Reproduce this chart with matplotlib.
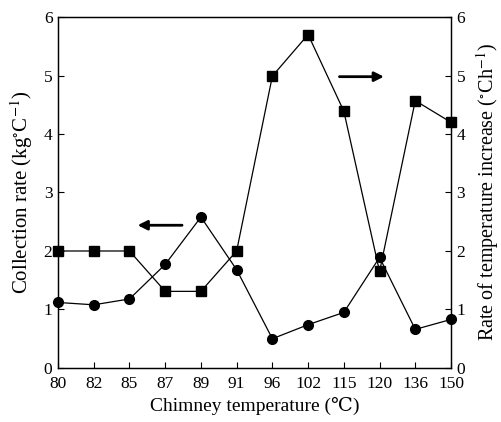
import numpy as np
import matplotlib
matplotlib.use('Agg')
import matplotlib.pyplot as plt

# 数据
temps = ['80', '82', '85', '87', '89', '91', '96', '102', '115', '120', '136', '150']
collection_rate = [1.12, 1.08, 1.18, 1.77, 2.58, 1.68, 0.50, 0.74, 0.95, 1.89, 0.66, 0.83]
temp_increase = [2.0, 2.0, 2.0, 1.31, 1.31, 2.0, 4.99, 5.70, 4.39, 1.65, 4.57, 4.20]

plt.rcParams['font.family'] = ['Liberation Serif', 'DejaVu Serif', 'Noto Sans CJK SC']
plt.rcParams['mathtext.fontset'] = 'stix'

fig = plt.figure(figsize=(5.01, 4.22), dpi=100)
ax = fig.add_axes([0.1158, 0.128, 0.7844, 0.8317])
ax2 = ax.twinx()

x = np.arange(len(temps))
ax.plot(x, collection_rate, color='black', lw=0.9, marker='o', ms=7, clip_on=False, zorder=3)
ax2.plot(x, temp_increase, color='black', lw=0.9, marker='s', ms=7, clip_on=False, zorder=3)

ax.set_xlim(0, len(temps) - 1)
ax.set_ylim(0, 6)
ax2.set_ylim(0, 6)
ax.set_xticks(x)
ax.set_xticklabels(temps)
ax.set_yticks(range(7))
ax2.set_yticks(range(7))

ax.tick_params(axis='x', direction='in', labelsize=12.5, length=4, width=0.8, pad=6)
ax.tick_params(axis='y', direction='in', labelsize=12.5, length=4, width=0.8, pad=4)
ax2.tick_params(axis='y', direction='in', labelsize=12.5, length=4, width=0.8, pad=4)

for a in (ax, ax2):
    for s in a.spines.values():
        s.set_linewidth(0.9)

ax.set_xlabel('Chimney temperature (℃)', fontsize=14, labelpad=3)
ax.set_ylabel(r'Collection rate (kg$^{\circ}$C$^{-1}$)', fontsize=15, labelpad=6)
ax2.set_ylabel(r'Rate of temperature increase ($^{\circ}$Ch$^{-1}$)', fontsize=14.5, labelpad=6)

# 箭头
ax.annotate('', xy=(2.15, 2.44), xytext=(3.55, 2.44),
            arrowprops=dict(arrowstyle='-|>', color='black', lw=2, mutation_scale=14))
ax2.annotate('', xy=(9.2, 4.98), xytext=(7.8, 4.98),
             arrowprops=dict(arrowstyle='-|>', color='black', lw=2, mutation_scale=14))

fig.savefig('out.png', dpi=100)
